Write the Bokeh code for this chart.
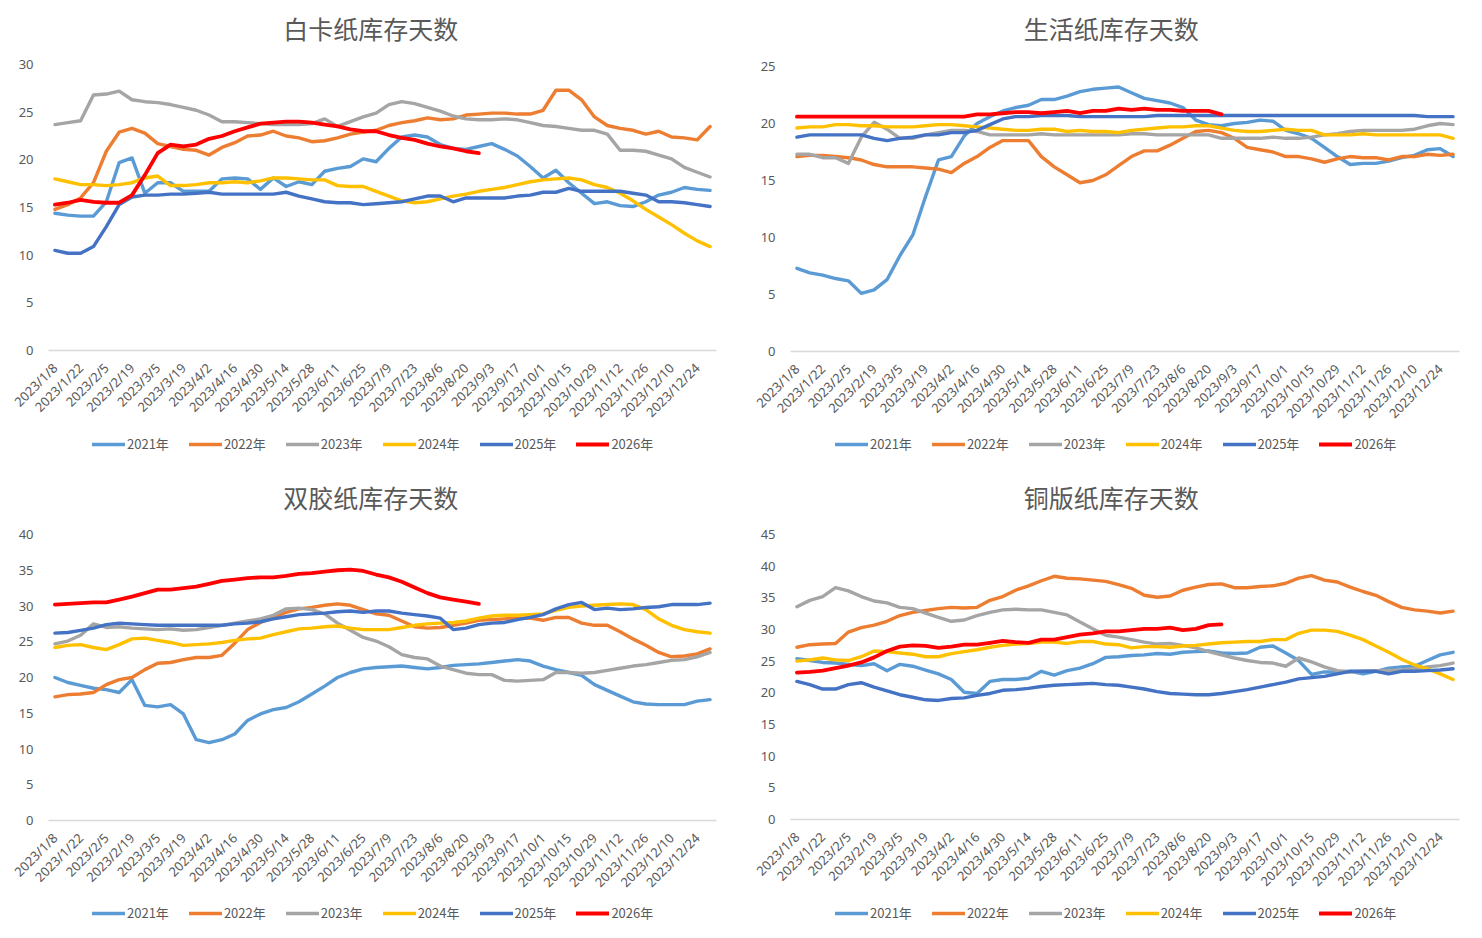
import math
from bokeh.plotting import figure
from bokeh.layouts import column, row
from bokeh.models import Range1d, FixedTicker, Legend, LegendItem, Label
from bokeh.embed import file_html
from bokeh.resources import INLINE

weeks = ["2023/1/8", "2023/1/15", "2023/1/22", "2023/1/29", "2023/2/5", "2023/2/12", "2023/2/19",
         "2023/2/26", "2023/3/5", "2023/3/12", "2023/3/19", "2023/3/26", "2023/4/2", "2023/4/9",
         "2023/4/16", "2023/4/23", "2023/4/30", "2023/5/7", "2023/5/14", "2023/5/21", "2023/5/28",
         "2023/6/4", "2023/6/11", "2023/6/18", "2023/6/25", "2023/7/2", "2023/7/9", "2023/7/16",
         "2023/7/23", "2023/7/30", "2023/8/6", "2023/8/13", "2023/8/20", "2023/8/27", "2023/9/3",
         "2023/9/10", "2023/9/17", "2023/9/24", "2023/10/1", "2023/10/8", "2023/10/15", "2023/10/22",
         "2023/10/29", "2023/11/5", "2023/11/12", "2023/11/19", "2023/11/26", "2023/12/3",
         "2023/12/10", "2023/12/17", "2023/12/24", "2023/12/31"]

years = ["2021年", "2022年", "2023年", "2024年", "2025年", "2026年"]
colors = ["#5B9BD5", "#ED7D31", "#A5A5A5", "#FFC000", "#4472C4", "#FF0000"]

titles = ["白卡纸库存天数", "生活纸库存天数", "双胶纸库存天数", "铜版纸库存天数"]
y_max = [30, 25, 40, 45]

# 白卡纸
c1_2021 = [14.4, 14.2, 14.1, 14.1, 15.6, 19.7, 20.2, 16.5, 17.6, 17.6, 16.7, 16.7, 16.7, 18.0, 18.1, 18.0, 16.9, 18.1, 17.2, 17.7, 17.4, 18.8, 19.1, 19.3, 20.1, 19.8, 21.2, 22.4, 22.6, 22.4, 21.6, 21.2, 21.1, 21.4, 21.7, 21.1, 20.4, 19.3, 18.1, 18.9, 17.6, 16.5, 15.4, 15.6, 15.2, 15.1, 15.6, 16.3, 16.6, 17.1, 16.9, 16.8]
c1_2022 = [14.8, 15.3, 16.0, 17.6, 20.9, 22.9, 23.3, 22.8, 21.7, 21.4, 21.1, 21.0, 20.5, 21.3, 21.8, 22.5, 22.6, 23.0, 22.5, 22.3, 21.9, 22.0, 22.3, 22.7, 22.9, 23.1, 23.6, 23.9, 24.1, 24.4, 24.2, 24.3, 24.7, 24.8, 24.9, 24.9, 24.8, 24.8, 25.2, 27.3, 27.3, 26.3, 24.5, 23.6, 23.3, 23.1, 22.7, 23.0, 22.4, 22.3, 22.1, 23.5]
c1_2023 = [23.7, 23.9, 24.1, 26.8, 26.9, 27.2, 26.3, 26.1, 26.0, 25.8, 25.5, 25.2, 24.7, 24.0, 24.0, 23.9, 23.8, 23.7, 23.7, 23.7, 23.8, 24.3, 23.5, 24.0, 24.5, 24.9, 25.8, 26.1, 25.9, 25.5, 25.1, 24.6, 24.3, 24.2, 24.2, 24.3, 24.2, 23.9, 23.6, 23.5, 23.3, 23.1, 23.1, 22.7, 21.0, 21.0, 20.9, 20.5, 20.1, 19.2, 18.7, 18.2]
c1_2024 = [18.0, 17.7, 17.4, 17.4, 17.3, 17.4, 17.6, 18.1, 18.3, 17.3, 17.3, 17.4, 17.6, 17.6, 17.7, 17.6, 17.8, 18.1, 18.1, 18.0, 17.9, 17.9, 17.3, 17.2, 17.2, 16.7, 16.2, 15.7, 15.5, 15.6, 15.9, 16.2, 16.4, 16.7, 16.9, 17.1, 17.4, 17.7, 17.9, 18.0, 18.1, 17.9, 17.4, 17.1, 16.5, 15.7, 14.8, 14.0, 13.2, 12.3, 11.5, 10.9]
c1_2025 = [10.5, 10.2, 10.2, 10.9, 13.0, 15.3, 16.1, 16.3, 16.3, 16.4, 16.4, 16.5, 16.6, 16.4, 16.4, 16.4, 16.4, 16.4, 16.6, 16.2, 15.9, 15.6, 15.5, 15.5, 15.3, 15.4, 15.5, 15.6, 15.9, 16.2, 16.2, 15.6, 16.0, 16.0, 16.0, 16.0, 16.2, 16.3, 16.6, 16.6, 17.0, 16.7, 16.7, 16.7, 16.7, 16.5, 16.3, 15.6, 15.6, 15.5, 15.3, 15.1]
c1_2026 = [15.3, 15.5, 15.8, 15.6, 15.5, 15.5, 16.3, 18.4, 20.7, 21.6, 21.4, 21.6, 22.2, 22.5, 23.0, 23.4, 23.8, 23.9, 24.0, 24.0, 23.9, 23.7, 23.5, 23.2, 23.0, 23.0, 22.6, 22.3, 22.1, 21.7, 21.4, 21.2, 20.9, 20.7]

# 生活纸
c2_2021 = [7.3, 6.9, 6.7, 6.4, 6.2, 5.1, 5.4, 6.3, 8.4, 10.2, 13.6, 16.8, 17.1, 18.9, 20.0, 20.6, 21.1, 21.4, 21.6, 22.1, 22.1, 22.4, 22.8, 23.0, 23.1, 23.2, 22.7, 22.2, 22.0, 21.8, 21.4, 20.3, 19.9, 19.8, 20.0, 20.1, 20.3, 20.2, 19.4, 19.1, 18.7, 17.9, 17.1, 16.4, 16.5, 16.5, 16.7, 17.0, 17.2, 17.7, 17.8, 17.1]
c2_2022 = [17.1, 17.2, 17.2, 17.1, 17.0, 16.8, 16.4, 16.2, 16.2, 16.2, 16.1, 16.0, 15.7, 16.5, 17.1, 17.9, 18.5, 18.5, 18.5, 17.1, 16.2, 15.5, 14.8, 15.0, 15.5, 16.3, 17.1, 17.6, 17.6, 18.1, 18.7, 19.3, 19.4, 19.2, 18.7, 17.9, 17.7, 17.5, 17.1, 17.1, 16.9, 16.6, 16.9, 17.1, 17.0, 17.0, 16.8, 17.1, 17.1, 17.3, 17.2, 17.3]
c2_2023 = [17.3, 17.3, 17.0, 17.0, 16.5, 18.8, 20.1, 19.5, 18.7, 18.7, 19.0, 19.2, 19.4, 19.4, 19.3, 19.0, 19.0, 19.0, 19.0, 19.1, 19.0, 19.0, 19.0, 19.0, 19.0, 19.0, 19.1, 19.1, 19.0, 19.0, 19.0, 19.0, 19.0, 18.7, 18.7, 18.7, 18.7, 18.8, 18.7, 18.7, 18.8, 19.0, 19.1, 19.3, 19.4, 19.4, 19.4, 19.4, 19.5, 19.8, 20.0, 19.9]
c2_2024 = [19.6, 19.7, 19.7, 19.9, 19.9, 19.8, 19.8, 19.7, 19.7, 19.7, 19.8, 19.9, 19.9, 19.8, 19.7, 19.6, 19.5, 19.4, 19.4, 19.5, 19.5, 19.3, 19.4, 19.3, 19.3, 19.2, 19.4, 19.5, 19.6, 19.7, 19.7, 19.8, 19.8, 19.6, 19.4, 19.3, 19.3, 19.4, 19.5, 19.4, 19.4, 19.0, 19.0, 19.0, 19.1, 19.0, 19.0, 19.0, 19.0, 19.0, 19.0, 18.7]
c2_2025 = [18.8, 19.0, 19.0, 19.0, 19.0, 19.0, 18.7, 18.5, 18.7, 18.8, 19.0, 19.0, 19.2, 19.2, 19.4, 19.9, 20.4, 20.6, 20.6, 20.7, 20.7, 20.7, 20.6, 20.6, 20.6, 20.6, 20.6, 20.6, 20.7, 20.7, 20.7, 20.7, 20.7, 20.7, 20.7, 20.7, 20.7, 20.7, 20.7, 20.7, 20.7, 20.7, 20.7, 20.7, 20.7, 20.7, 20.7, 20.7, 20.7, 20.6, 20.6, 20.6]
c2_2026 = [20.6, 20.6, 20.6, 20.6, 20.6, 20.6, 20.6, 20.6, 20.6, 20.6, 20.6, 20.6, 20.6, 20.6, 20.8, 20.8, 20.9, 21.0, 21.0, 20.9, 21.0, 21.1, 20.9, 21.1, 21.1, 21.3, 21.2, 21.3, 21.2, 21.2, 21.1, 21.1, 21.1, 20.8]

# 双胶纸
c3_2021 = [20.0, 19.3, 18.9, 18.5, 18.3, 17.9, 19.7, 16.1, 15.9, 16.2, 14.9, 11.3, 10.9, 11.3, 12.1, 14.0, 14.9, 15.5, 15.8, 16.6, 17.7, 18.8, 20.0, 20.7, 21.2, 21.4, 21.5, 21.6, 21.4, 21.2, 21.4, 21.7, 21.8, 21.9, 22.1, 22.3, 22.5, 22.3, 21.6, 21.1, 20.7, 20.3, 19.0, 18.2, 17.4, 16.6, 16.3, 16.2, 16.2, 16.2, 16.7, 16.9]
c3_2022 = [17.3, 17.6, 17.7, 17.9, 19.0, 19.7, 20.0, 21.1, 22.0, 22.1, 22.5, 22.8, 22.8, 23.1, 24.8, 26.7, 27.7, 28.4, 29.1, 29.6, 29.8, 30.1, 30.3, 30.1, 29.5, 28.9, 28.7, 27.9, 27.1, 26.9, 27.0, 27.3, 27.6, 28.0, 28.1, 28.2, 28.3, 28.3, 28.0, 28.4, 28.4, 27.6, 27.3, 27.3, 26.4, 25.4, 24.5, 23.5, 22.9, 23.0, 23.3, 24.0]
c3_2023 = [24.7, 25.1, 25.9, 27.5, 27.0, 27.1, 26.9, 26.8, 26.7, 26.8, 26.6, 26.7, 27.0, 27.3, 27.6, 27.9, 28.2, 28.7, 29.6, 29.7, 29.5, 28.9, 27.6, 26.6, 25.6, 25.1, 24.3, 23.2, 22.8, 22.6, 21.6, 21.1, 20.6, 20.4, 20.4, 19.6, 19.5, 19.6, 19.7, 20.7, 20.7, 20.6, 20.7, 21.0, 21.3, 21.6, 21.8, 22.1, 22.4, 22.5, 22.9, 23.5]
c3_2024 = [24.2, 24.5, 24.6, 24.2, 23.9, 24.6, 25.4, 25.5, 25.2, 24.9, 24.5, 24.6, 24.7, 24.9, 25.2, 25.4, 25.5, 26.0, 26.4, 26.8, 26.9, 27.1, 27.2, 26.9, 26.7, 26.7, 26.7, 27.0, 27.3, 27.5, 27.6, 27.7, 27.9, 28.3, 28.6, 28.7, 28.7, 28.8, 28.9, 29.4, 29.8, 30.0, 30.1, 30.2, 30.3, 30.2, 29.5, 28.2, 27.3, 26.7, 26.4, 26.2]
c3_2025 = [26.2, 26.3, 26.6, 26.9, 27.4, 27.6, 27.5, 27.4, 27.3, 27.3, 27.3, 27.3, 27.3, 27.3, 27.5, 27.6, 27.8, 28.2, 28.5, 28.8, 28.9, 29.0, 29.2, 29.3, 29.1, 29.3, 29.3, 29.0, 28.8, 28.6, 28.3, 26.7, 26.9, 27.4, 27.6, 27.7, 28.1, 28.4, 28.8, 29.6, 30.2, 30.5, 29.5, 29.7, 29.5, 29.6, 29.8, 29.9, 30.2, 30.2, 30.2, 30.4]
c3_2026 = [30.2, 30.3, 30.4, 30.5, 30.5, 30.9, 31.3, 31.8, 32.3, 32.3, 32.5, 32.7, 33.1, 33.5, 33.7, 33.9, 34.0, 34.0, 34.2, 34.5, 34.6, 34.8, 35.0, 35.1, 34.9, 34.4, 34.0, 33.4, 32.6, 31.8, 31.2, 30.9, 30.6, 30.3]

# 铜版纸
c4_2021 = [25.4, 25.1, 24.8, 24.7, 24.5, 24.3, 24.6, 23.5, 24.5, 24.2, 23.6, 23.0, 22.1, 20.1, 19.9, 21.8, 22.1, 22.1, 22.3, 23.4, 22.8, 23.5, 23.9, 24.6, 25.6, 25.7, 25.9, 26.0, 26.2, 26.1, 26.4, 26.5, 26.6, 26.3, 26.2, 26.3, 27.2, 27.4, 26.3, 25.1, 22.9, 23.3, 23.3, 23.4, 23.0, 23.4, 23.9, 24.1, 24.2, 25.1, 26.0, 26.4]
c4_2022 = [27.2, 27.6, 27.7, 27.8, 29.6, 30.3, 30.7, 31.3, 32.2, 32.7, 33.0, 33.3, 33.5, 33.4, 33.5, 34.6, 35.2, 36.2, 36.9, 37.7, 38.4, 38.1, 38.0, 37.8, 37.6, 37.1, 36.5, 35.4, 35.1, 35.3, 36.2, 36.7, 37.1, 37.2, 36.6, 36.6, 36.8, 36.9, 37.3, 38.1, 38.5, 37.8, 37.5, 36.7, 36.0, 35.4, 34.4, 33.5, 33.1, 32.9, 32.6, 32.9]
c4_2023 = [33.6, 34.6, 35.2, 36.6, 36.1, 35.2, 34.5, 34.2, 33.5, 33.3, 32.6, 31.9, 31.3, 31.5, 32.2, 32.7, 33.1, 33.2, 33.1, 33.1, 32.7, 32.3, 31.2, 30.1, 29.1, 28.8, 28.4, 28.0, 27.7, 27.8, 27.5, 27.1, 26.5, 26.0, 25.5, 25.1, 24.8, 24.7, 24.2, 25.5, 24.9, 24.1, 23.5, 23.3, 23.4, 23.5, 23.5, 23.6, 23.8, 24.1, 24.3, 24.7]
c4_2024 = [25.0, 25.2, 25.5, 25.2, 25.1, 25.7, 26.6, 26.5, 26.3, 26.1, 25.7, 25.7, 26.2, 26.5, 26.8, 27.2, 27.5, 27.7, 27.8, 28.0, 28.0, 27.8, 28.1, 28.1, 27.7, 27.6, 27.1, 27.3, 27.3, 27.2, 27.4, 27.5, 27.7, 27.9, 28.0, 28.1, 28.1, 28.4, 28.4, 29.4, 29.9, 29.9, 29.7, 29.1, 28.4, 27.4, 26.4, 25.3, 24.4, 23.8, 23.0, 22.1]
c4_2025 = [21.8, 21.3, 20.6, 20.6, 21.3, 21.6, 20.9, 20.3, 19.7, 19.3, 18.9, 18.8, 19.1, 19.2, 19.6, 19.9, 20.4, 20.5, 20.7, 21.0, 21.2, 21.3, 21.4, 21.5, 21.3, 21.2, 20.9, 20.6, 20.2, 19.9, 19.8, 19.7, 19.7, 19.9, 20.2, 20.5, 20.9, 21.3, 21.7, 22.2, 22.4, 22.6, 23.0, 23.4, 23.4, 23.4, 23.0, 23.4, 23.4, 23.5, 23.6, 23.8]
c4_2026 = [23.2, 23.3, 23.5, 23.9, 24.3, 24.8, 25.6, 26.6, 27.3, 27.5, 27.4, 27.1, 27.3, 27.6, 27.6, 27.9, 28.2, 28.0, 27.9, 28.4, 28.4, 28.8, 29.2, 29.4, 29.7, 29.7, 29.9, 30.1, 30.1, 30.3, 29.9, 30.1, 30.7, 30.8]

chart_series = [
    [c1_2021, c1_2022, c1_2023, c1_2024, c1_2025, c1_2026],
    [c2_2021, c2_2022, c2_2023, c2_2024, c2_2025, c2_2026],
    [c3_2021, c3_2022, c3_2023, c3_2024, c3_2025, c3_2026],
    [c4_2021, c4_2022, c4_2023, c4_2024, c4_2025, c4_2026],
]

# per chart: width, title strip height, title centre (x, y from strip bottom),
# plot height, plot borders (left, right, top, bottom), legend strip height and position
layout = [
    dict(w=740, th=50, tx=357, ty=23, ph=380, ml=48, mr=24, mt=14, mb=80, lh=38, lx=44, ly=15),
    dict(w=736, th=50, tx=353, ty=23, ph=381, ml=50, mr=17, mt=16, mb=80, lh=37, lx=45, ly=15),
    dict(w=740, th=50, tx=357, ty=22, ph=382, ml=48, mr=24, mt=16, mb=80, lh=32, lx=44, ly=10),
    dict(w=736, th=50, tx=353, ty=22, ph=381, ml=50, mr=17, mt=16, mb=80, lh=33, lx=45, ly=10),
]

TXT = "#595959"
CJK = "Noto Sans CJK SC"
LW = [3.4, 3.4, 3.4, 3.4, 3.4, 3.8]


def strip(w, h):
    s = figure(width=w, height=h, output_backend="svg", toolbar_location=None,
               x_range=Range1d(0, w), y_range=Range1d(0, h),
               x_axis_location=None, y_axis_location=None, min_border=0)
    s.outline_line_color = None
    s.grid.visible = False
    return s


def make_chart(k):
    L = layout[k]
    w = L["w"]

    # title strip
    t = strip(w, L["th"])
    t.add_layout(Label(x=L["tx"], y=L["ty"], text=titles[k], text_align="center",
                       text_baseline="middle", text_font=CJK, text_font_size="25px",
                       text_color=TXT))

    # plot
    p = figure(width=w, height=L["ph"], output_backend="svg", toolbar_location=None,
               x_range=Range1d(-0.5, 51.5), y_range=Range1d(0, y_max[k]),
               min_border_left=L["ml"], min_border_right=L["mr"],
               min_border_top=L["mt"], min_border_bottom=L["mb"])
    p.outline_line_color = None
    p.xgrid.visible = False
    p.ygrid.visible = False

    xa = p.xaxis[0]
    xa.ticker = FixedTicker(ticks=list(range(0, len(weeks), 2)))
    xa.major_label_overrides = {i: weeks[i] for i in range(0, len(weeks), 2)}
    xa.major_label_orientation = math.pi / 4
    xa.major_tick_line_color = None
    xa.minor_tick_line_color = None
    xa.axis_line_color = "#D9D9D9"
    xa.axis_line_width = 1.5
    xa.major_label_text_font = "Noto Sans"
    xa.major_label_text_font_size = "13px"
    xa.major_label_text_color = TXT
    xa.major_label_standoff = 9

    ya = p.yaxis[0]
    ya.ticker = FixedTicker(ticks=list(range(0, y_max[k] + 1, 5)))
    ya.axis_line_color = None
    ya.major_tick_line_color = None
    ya.minor_tick_line_color = None
    ya.major_label_text_font = "Noto Sans"
    ya.major_label_text_font_size = "13px"
    ya.major_label_text_color = TXT
    ya.major_label_standoff = 9

    for j, vals in enumerate(chart_series[k]):
        p.line(x=list(range(len(vals))), y=vals, line_color=colors[j],
               line_width=LW[j], line_join="round", line_cap="round")

    # legend strip: keys for the six series (placeholder renderers draw nothing)
    g = strip(w, L["lh"])
    items = []
    for j in range(len(years)):
        r = g.line(x=[0], y=[float("nan")], line_color=colors[j], line_width=LW[j], line_cap="round")
        items.append(LegendItem(label=years[j], renderers=[r]))
    lg = Legend(items=items, orientation="horizontal", location=(L["lx"], L["ly"]))
    lg.label_text_font = CJK
    lg.label_text_font_size = "13px"
    lg.label_text_color = TXT
    lg.glyph_width = 33
    lg.glyph_height = 16
    lg.label_standoff = 2
    lg.spacing = 20
    lg.padding = 0
    lg.margin = 0
    lg.border_line_color = None
    lg.background_fill_alpha = 0
    g.add_layout(lg)

    return column(t, p, g, spacing=0)


cols = [make_chart(k) for k in range(4)]
page = column(row(cols[0], cols[1], spacing=0), row(cols[2], cols[3], spacing=0), spacing=0)

with open("out.html", "w") as f:
    f.write(file_html(page, INLINE, title="库存天数"))
